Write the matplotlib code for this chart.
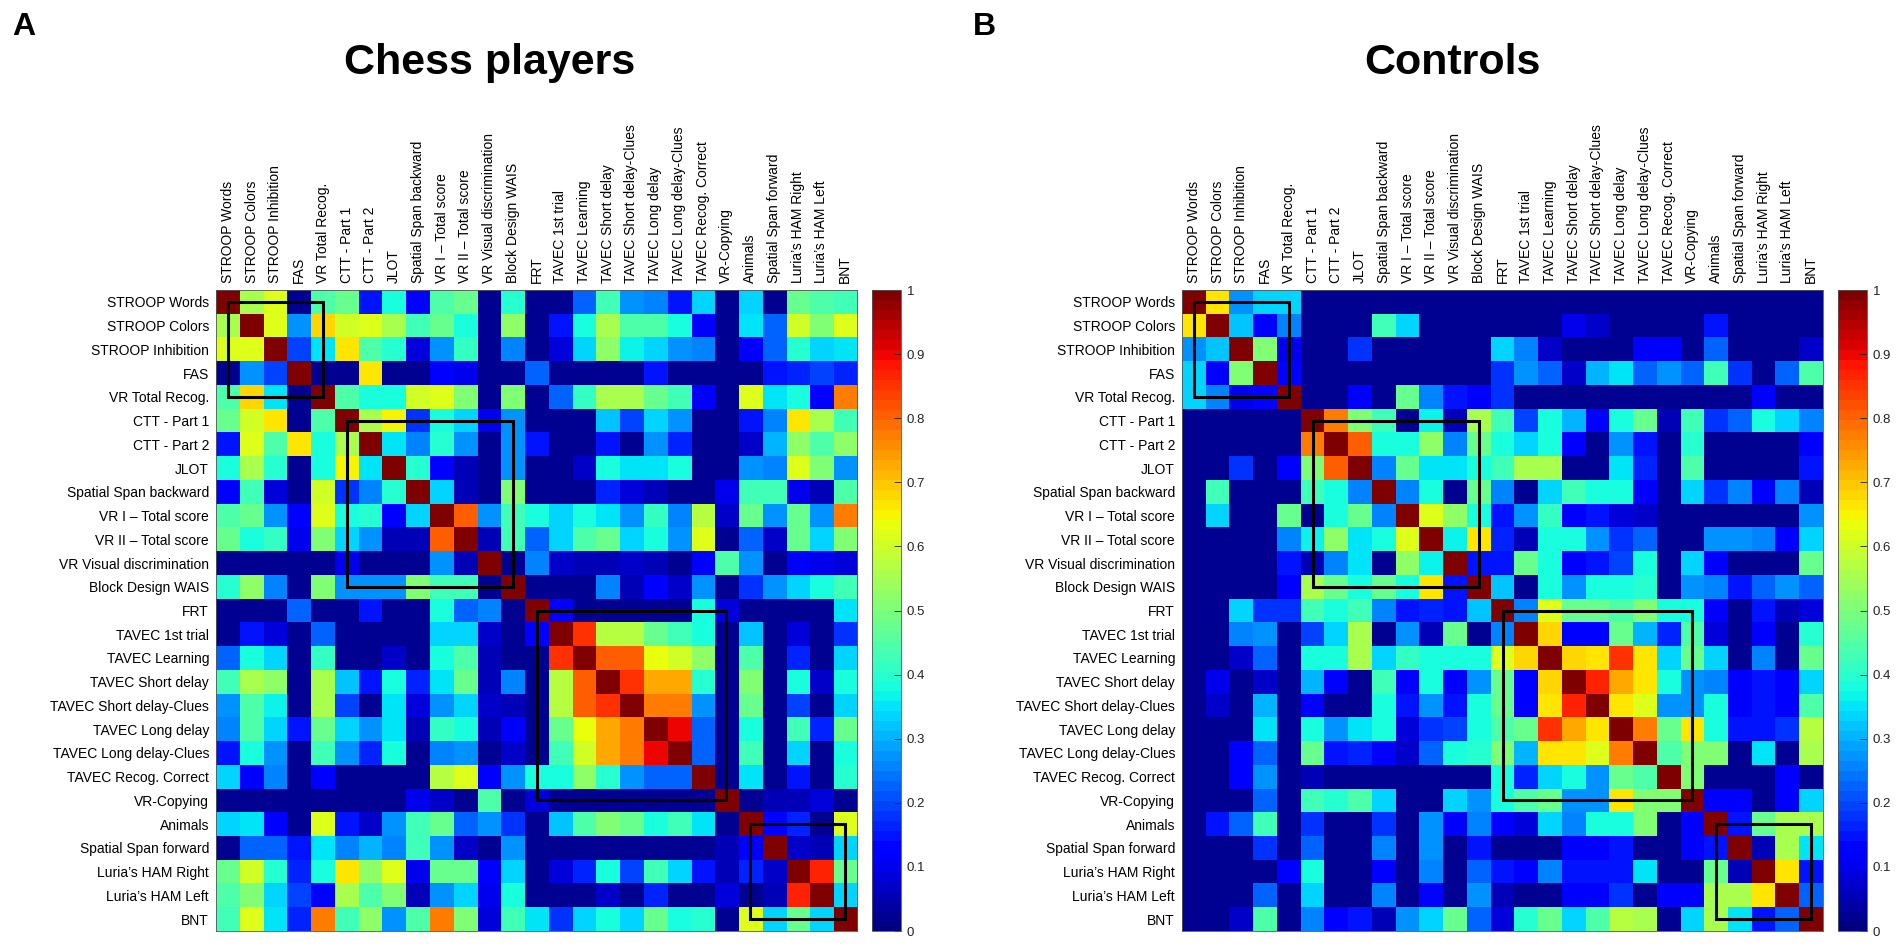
import numpy as np
import matplotlib
matplotlib.use("Agg")
import matplotlib.pyplot as plt
from matplotlib.patches import Rectangle

labels = ["STROOP Words", "STROOP Colors", "STROOP Inhibition", "FAS", "VR Total Recog.",
          "CTT - Part 1", "CTT - Part 2", "JLOT", "Spatial Span backward",
          "VR I \u2013 Total score", "VR II \u2013 Total score", "VR Visual discrimination",
          "Block Design WAIS", "FRT", "TAVEC 1st trial", "TAVEC Learning", "TAVEC Short delay",
          "TAVEC Short delay-Clues", "TAVEC Long delay", "TAVEC Long delay-Clues",
          "TAVEC Recog. Correct", "VR-Copying", "Animals", "Spatial Span forward",
          "Luria\u2019s HAM Right", "Luria\u2019s HAM Left", "BNT"]

# lower triangles (row i, columns 0..i-1); matrices are symmetric with unit diagonal
chess_lower = [
    [],
    [0.55],
    [0.62, 0.62],
    [0.03, 0.28, 0.20],
    [0.45, 0.68, 0.35, 0.03],
    [0.47, 0.60, 0.66, 0.02, 0.45],
    [0.15, 0.62, 0.45, 0.66, 0.38, 0.55],
    [0.38, 0.55, 0.40, 0.02, 0.38, 0.65, 0.35],
    [0.12, 0.43, 0.08, 0.02, 0.60, 0.18, 0.25, 0.40],
    [0.45, 0.48, 0.27, 0.12, 0.62, 0.38, 0.40, 0.12, 0.33],
    [0.48, 0.38, 0.42, 0.10, 0.50, 0.33, 0.27, 0.05, 0.05, 0.80],
    [0.02, 0.02, 0.02, 0.02, 0.02, 0.10, 0.02, 0.02, 0.02, 0.28, 0.05],
    [0.40, 0.52, 0.25, 0.02, 0.50, 0.27, 0.27, 0.27, 0.50, 0.43, 0.43, 0.02],
    [0.02, 0.02, 0.02, 0.22, 0.02, 0.02, 0.15, 0.02, 0.02, 0.38, 0.22, 0.25, 0.02],
    [0.02, 0.15, 0.08, 0.02, 0.22, 0.02, 0.02, 0.02, 0.02, 0.33, 0.33, 0.07, 0.02, 0.12],
    [0.22, 0.38, 0.33, 0.02, 0.42, 0.02, 0.02, 0.07, 0.02, 0.38, 0.45, 0.05, 0.02, 0.02, 0.85],
    [0.43, 0.55, 0.52, 0.02, 0.55, 0.32, 0.15, 0.38, 0.17, 0.35, 0.48, 0.05, 0.25, 0.02, 0.57, 0.80],
    [0.27, 0.45, 0.37, 0.02, 0.55, 0.20, 0.02, 0.35, 0.08, 0.28, 0.33, 0.07, 0.05, 0.02, 0.57, 0.80, 0.85],
    [0.25, 0.45, 0.33, 0.15, 0.48, 0.33, 0.27, 0.35, 0.05, 0.42, 0.38, 0.05, 0.12, 0.02, 0.47, 0.64, 0.72, 0.77],
    [0.15, 0.38, 0.27, 0.02, 0.43, 0.27, 0.17, 0.38, 0.02, 0.25, 0.27, 0.02, 0.07, 0.02, 0.43, 0.60, 0.72, 0.77, 0.90],
    [0.33, 0.12, 0.25, 0.02, 0.12, 0.02, 0.02, 0.02, 0.02, 0.57, 0.62, 0.12, 0.27, 0.38, 0.38, 0.53, 0.40, 0.27, 0.23, 0.23],
    [0.02, 0.02, 0.02, 0.02, 0.02, 0.02, 0.02, 0.02, 0.10, 0.07, 0.02, 0.45, 0.02, 0.08, 0.02, 0.02, 0.02, 0.02, 0.02, 0.02, 0.02],
    [0.33, 0.35, 0.12, 0.02, 0.62, 0.15, 0.07, 0.28, 0.43, 0.47, 0.22, 0.28, 0.18, 0.02, 0.32, 0.45, 0.50, 0.48, 0.38, 0.43, 0.35, 0.02],
    [0.02, 0.22, 0.22, 0.15, 0.35, 0.25, 0.30, 0.25, 0.43, 0.27, 0.07, 0.02, 0.27, 0.02, 0.02, 0.02, 0.02, 0.02, 0.02, 0.02, 0.02, 0.05, 0.12],
    [0.47, 0.60, 0.40, 0.17, 0.38, 0.67, 0.52, 0.62, 0.10, 0.47, 0.47, 0.12, 0.33, 0.02, 0.08, 0.17, 0.38, 0.20, 0.43, 0.33, 0.15, 0.05, 0.17, 0.07],
    [0.45, 0.50, 0.33, 0.20, 0.12, 0.55, 0.45, 0.50, 0.05, 0.28, 0.33, 0.10, 0.38, 0.02, 0.02, 0.02, 0.07, 0.02, 0.17, 0.02, 0.02, 0.08, 0.02, 0.05, 0.87],
    [0.43, 0.62, 0.35, 0.17, 0.78, 0.43, 0.52, 0.27, 0.45, 0.78, 0.50, 0.08, 0.43, 0.35, 0.18, 0.33, 0.38, 0.33, 0.47, 0.38, 0.40, 0.02, 0.62, 0.33, 0.48, 0.33],
]

controls_lower = [
    [],
    [0.67],
    [0.27, 0.32],
    [0.33, 0.12, 0.50],
    [0.33, 0.25, 0.10, 0.13],
    [0.02, 0.02, 0.02, 0.02, 0.02],
    [0.02, 0.02, 0.02, 0.02, 0.02, 0.78],
    [0.02, 0.02, 0.18, 0.02, 0.12, 0.50, 0.80],
    [0.02, 0.43, 0.02, 0.02, 0.02, 0.43, 0.38, 0.25],
    [0.02, 0.33, 0.02, 0.02, 0.47, 0.03, 0.38, 0.48, 0.25],
    [0.02, 0.02, 0.02, 0.02, 0.25, 0.37, 0.53, 0.35, 0.38, 0.62],
    [0.02, 0.02, 0.02, 0.02, 0.15, 0.05, 0.25, 0.35, 0.02, 0.53, 0.37],
    [0.02, 0.02, 0.02, 0.02, 0.12, 0.55, 0.48, 0.38, 0.47, 0.38, 0.67, 0.15],
    [0.02, 0.02, 0.33, 0.18, 0.18, 0.43, 0.38, 0.43, 0.25, 0.15, 0.17, 0.15, 0.32],
    [0.02, 0.02, 0.25, 0.27, 0.02, 0.20, 0.33, 0.55, 0.02, 0.28, 0.05, 0.47, 0.02, 0.25],
    [0.02, 0.02, 0.07, 0.23, 0.02, 0.38, 0.38, 0.55, 0.33, 0.42, 0.38, 0.38, 0.38, 0.62, 0.68],
    [0.02, 0.10, 0.02, 0.07, 0.02, 0.30, 0.12, 0.02, 0.43, 0.12, 0.38, 0.12, 0.27, 0.47, 0.12, 0.68],
    [0.02, 0.07, 0.02, 0.30, 0.02, 0.12, 0.02, 0.02, 0.38, 0.15, 0.28, 0.15, 0.38, 0.47, 0.12, 0.66, 0.87],
    [0.02, 0.02, 0.02, 0.35, 0.02, 0.38, 0.27, 0.35, 0.38, 0.08, 0.18, 0.20, 0.38, 0.45, 0.47, 0.85, 0.72, 0.67],
    [0.02, 0.02, 0.12, 0.22, 0.02, 0.47, 0.15, 0.17, 0.12, 0.07, 0.22, 0.38, 0.40, 0.50, 0.30, 0.67, 0.67, 0.62, 0.78],
    [0.02, 0.02, 0.12, 0.28, 0.02, 0.05, 0.02, 0.02, 0.02, 0.02, 0.02, 0.02, 0.02, 0.38, 0.17, 0.33, 0.38, 0.28, 0.47, 0.45],
    [0.02, 0.02, 0.02, 0.22, 0.02, 0.43, 0.40, 0.45, 0.33, 0.02, 0.02, 0.33, 0.27, 0.38, 0.45, 0.48, 0.28, 0.28, 0.66, 0.50, 0.50],
    [0.02, 0.15, 0.22, 0.43, 0.02, 0.18, 0.02, 0.02, 0.18, 0.02, 0.27, 0.12, 0.25, 0.12, 0.08, 0.33, 0.25, 0.38, 0.38, 0.50, 0.02, 0.12],
    [0.02, 0.02, 0.02, 0.18, 0.02, 0.22, 0.02, 0.02, 0.25, 0.02, 0.27, 0.02, 0.15, 0.02, 0.02, 0.02, 0.12, 0.12, 0.15, 0.02, 0.02, 0.12, 0.15],
    [0.02, 0.02, 0.02, 0.02, 0.12, 0.38, 0.02, 0.02, 0.12, 0.02, 0.25, 0.02, 0.22, 0.15, 0.12, 0.25, 0.15, 0.15, 0.15, 0.35, 0.02, 0.02, 0.47, 0.05],
    [0.02, 0.02, 0.02, 0.22, 0.02, 0.33, 0.02, 0.02, 0.25, 0.02, 0.12, 0.02, 0.28, 0.05, 0.02, 0.02, 0.12, 0.12, 0.18, 0.02, 0.12, 0.12, 0.55, 0.55, 0.67],
    [0.02, 0.02, 0.07, 0.45, 0.02, 0.25, 0.12, 0.15, 0.05, 0.27, 0.33, 0.48, 0.22, 0.08, 0.40, 0.47, 0.33, 0.45, 0.57, 0.55, 0.02, 0.33, 0.55, 0.35, 0.15, 0.22],
]

# groups outlined with black boxes (first and last index of each group)
groups = [(0, 4), (5, 12), (13, 21), (22, 26)]
panel_titles = ["Chess players", "Controls"]
panel_letters = ["A", "B"]
cbar_ticks = [0, 0.1, 0.2, 0.3, 0.4, 0.5, 0.6, 0.7, 0.8, 0.9, 1]
cbar_ticklabels = ["0", "0.1", "0.2", "0.3", "0.4", "0.5", "0.6", "0.7", "0.8", "0.9", "1"]


def build(lower):
    n = len(lower)
    m = np.eye(n)
    for i, row in enumerate(lower):
        for j, v in enumerate(row):
            m[i, j] = v
            m[j, i] = v
    return m


mats = [build(chess_lower), build(controls_lower)]

plt.rcParams["font.family"] = ["Liberation Sans", "DejaVu Sans"]
W, H = 1901, 947
fig = plt.figure(figsize=(W / 100, H / 100), dpi=100)
cmap = plt.get_cmap("jet", 64)

ax_left_px = [216, 1182]
cb_left_px = [872, 1838]
top_px, bot_px = 290, 931
size_px = 641
title_x = [490, 1452]
letter_x = [12, 973]

for k in range(2):
    ax = fig.add_axes([ax_left_px[k] / W, 1 - bot_px / H, size_px / W, (bot_px - top_px) / H])
    im = ax.imshow(mats[k], cmap=cmap, vmin=0, vmax=1, aspect="auto", interpolation="nearest")
    n = len(labels)
    ax.set_xticks(range(n))
    ax.set_yticks(range(n))
    ax.xaxis.tick_top()
    ax.set_xticklabels(labels, rotation=90, fontsize=10, va="bottom", ha="center")
    ax.set_yticklabels(labels, fontsize=10)
    ax.tick_params(length=0, pad=5)
    for s in ax.spines.values():
        s.set_linewidth(0.6)
        s.set_color("#555555")
    for a, b in groups:
        ax.add_patch(Rectangle((a, a), b - a, b - a, fill=False, edgecolor="black",
                               linewidth=2.2, zorder=5))

    cax = fig.add_axes([cb_left_px[k] / W, 1 - bot_px / H, 29 / W, (bot_px - top_px) / H])
    cb = fig.colorbar(im, cax=cax, ticks=cbar_ticks)
    cb.ax.set_yticklabels(cbar_ticklabels)
    cb.ax.tick_params(direction="in", length=5, width=0.6, labelsize=9.5, pad=4, colors="#222222")
    cb.outline.set_linewidth(0.6)
    cb.outline.set_edgecolor("#555555")

    fig.text(title_x[k] / W, 1 - 74 / H, panel_titles[k], ha="center", va="baseline",
             fontsize=31, fontweight="bold")
    fig.text(letter_x[k] / W, 1 - 35 / H, panel_letters[k], ha="left", va="baseline",
             fontsize=23, fontweight="bold")

fig.savefig("out.png", dpi=100)
